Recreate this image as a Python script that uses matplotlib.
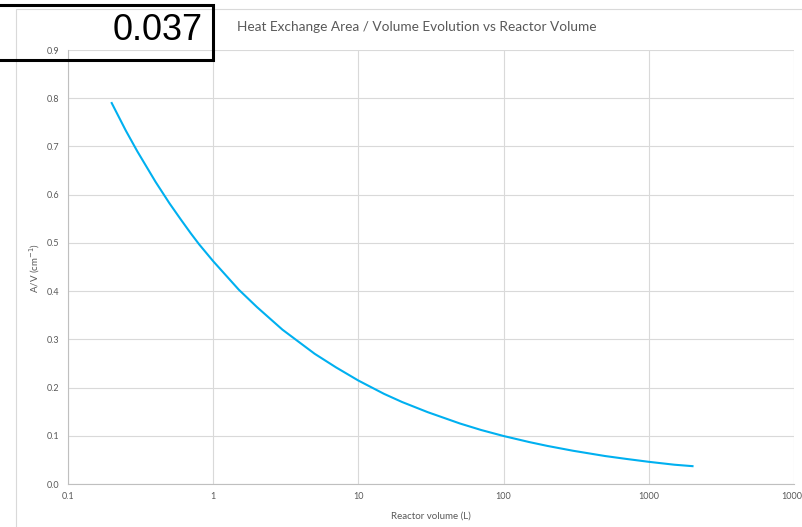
import matplotlib
matplotlib.use("Agg")
import matplotlib.pyplot as plt
from matplotlib.patches import Rectangle

plt.rcParams['font.family'] = ['Lato', 'DejaVu Sans']

# reactor volume (L) and A/V (cm^-1)
volume = [0.2, 0.25, 0.3, 0.4, 0.5, 0.6, 0.7, 0.8, 1, 1.5, 2, 3, 5, 7, 10,
          15, 20, 30, 50, 70, 100, 150, 200, 300, 500, 700, 1000, 1500, 2000]
area_vol = [0.79, 0.733, 0.69, 0.627, 0.582, 0.548, 0.52, 0.497, 0.462,
            0.403, 0.367, 0.32, 0.27, 0.242, 0.2145, 0.187, 0.170, 0.149,
            0.1255, 0.112, 0.0995, 0.087, 0.079, 0.069, 0.058, 0.052, 0.046,
            0.040, 0.037]

x_ticks = [0.1, 1, 10, 100, 1000, 10000]
x_labels = ["0.1", "1", "10", "100", "1000", "10000"]
y_ticks = [0.0, 0.1, 0.2, 0.3, 0.4, 0.5, 0.6, 0.7, 0.8, 0.9]
boxed_value = "0.037"

W, H = 802, 527
fig = plt.figure(figsize=(W / 100, H / 100), dpi=100)

# chart area border
fig.patches.append(Rectangle((16 / W, -0.02), 1.0, 1 - 9 / H + 0.02,
                             transform=fig.transFigure, fill=False,
                             edgecolor="#d9d9d9", lw=0.8, zorder=0))

ax = fig.add_axes([68 / W, 1 - 484 / H, (794 - 68) / W, (484 - 50) / H])
ax.plot(volume, area_vol, color="#00b0f0", lw=1.5, zorder=3)

ax.set_xscale("log")
ax.set_xlim(0.1, 10000)
ax.set_ylim(0, 0.9)
ax.set_xticks(x_ticks)
ax.set_xticklabels(x_labels)
ax.minorticks_off()
ax.set_yticks(y_ticks)
ax.set_yticklabels([f"{v:.1f}" for v in y_ticks])
ax.tick_params(length=0, labelsize=6.5, labelcolor="#595959", pad=6)
ax.grid(True, color="#d9d9d9", lw=0.8)
for s in ["top", "right"]:
    ax.spines[s].set_visible(False)
for s in ["left", "bottom"]:
    ax.spines[s].set_color("#bfbfbf")
    ax.spines[s].set_linewidth(0.8)
ax.spines["bottom"].set_zorder(4)
ax.set_axisbelow(True)

fig.text(417 / W, 1 - 27 / H, "Heat Exchange Area / Volume Evolution vs Reactor Volume",
         ha="center", va="center", fontsize=9.8, color="#595959")
fig.text(431 / W, 1 - 516 / H, "Reactor volume (L)", ha="center", va="center",
         fontsize=7, color="#595959")
fig.text(35 / W, 1 - 268 / H, "A/V (cm$^{-1}$)", ha="center", va="center",
         rotation=90, fontsize=7, color="#595959")

# boxed value in the corner
fig.patches.append(Rectangle((-2 / W, 1 - 60 / H), 215 / W, 55 / H,
                             transform=fig.transFigure, fill=False,
                             edgecolor="black", lw=2.2, zorder=5))
fig.text(203 / W, 1 - 31 / H, boxed_value, ha="right", va="center",
         fontsize=26, color="black", family=["Liberation Sans", "DejaVu Sans"])

fig.savefig("out.png", dpi=100)
